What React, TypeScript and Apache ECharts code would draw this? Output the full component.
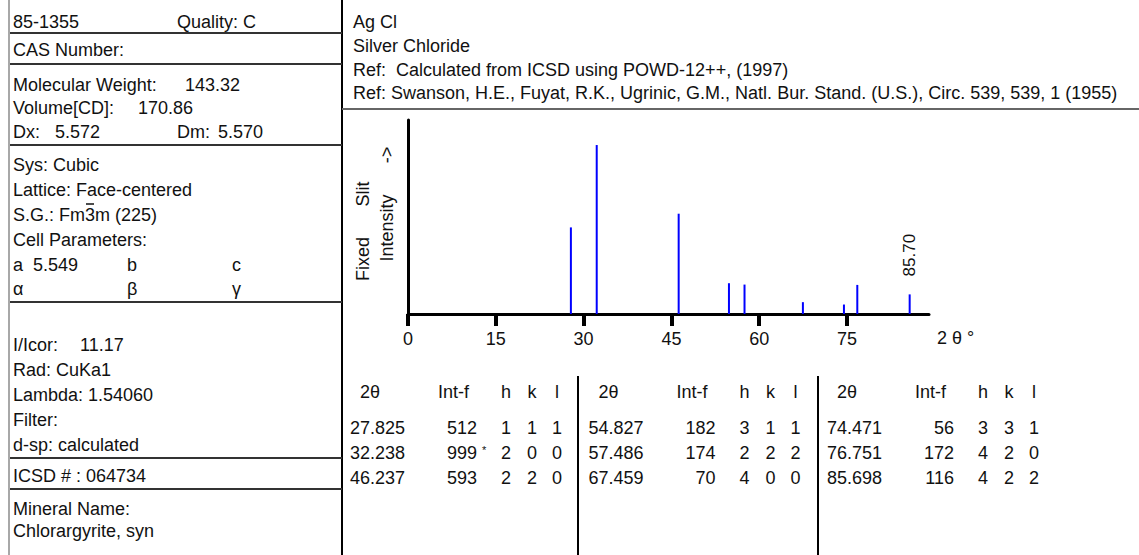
import { useEffect, useRef } from "react";
import * as echarts from "echarts";

// Reflection positions (2θ, degrees) and fixed-slit intensities for AgCl, CuKα1
const twoTheta = [27.825, 32.238, 46.237, 54.827, 57.486, 67.459, 74.471, 76.751, 85.698];
const intensity = [512, 999, 593, 182, 174, 70, 56, 172, 116];
const hIndex = [1, 2, 2, 3, 2, 4, 3, 4, 4];
const kIndex = [1, 0, 2, 1, 2, 0, 3, 2, 2];
const lIndex = [1, 0, 0, 1, 2, 0, 1, 0, 2];

// Axis range and tick labels of the stick pattern
const axisMin = 0;
const axisMax = 89;
const tickValues = [0, 15, 30, 45, 60, 75];
const intensityMax = 1147;
const labelledPeak = 8; // the last reflection carries its 2θ value

// Card texts
const cardNumber = "85-1355";
const quality = "Quality: C";
const casLine = "CAS Number:";
const molWeight = ["Molecular Weight:", "143.32"];
const volume = ["Volume[CD]:", "170.86"];
const densityX = ["Dx:", "5.572"];
const densityM = ["Dm:", "5.570"];
const crystalLines = ["Sys: Cubic", "Lattice: Face-centered", "S.G.: Fm3m (225)", "Cell Parameters:"];
const cellA = ["a", "5.549"];
const cellLetters = ["b", "c"];
const cellAngles = ["α", "β", "γ"];
const iIcor = ["I/Icor:", "11.17"];
const radiationLines = ["Rad: CuKa1", "Lambda: 1.54060", "Filter:", "d-sp: calculated"];
const icsdLine = "ICSD # : 064734";
const mineralLines = ["Mineral Name:", "Chlorargyrite, syn"];
const headerLines = [
  "Ag Cl",
  "Silver Chloride",
  "Ref:  Calculated from ICSD using POWD-12++, (1997)",
  "Ref: Swanson, H.E., Fuyat, R.K., Ugrinic, G.M., Natl. Bur. Stand. (U.S.), Circ. 539, 539, 1 (1955)",
];
const tableHeads = ["2θ", "Int-f", "h", "k", "l"];
const yNameParts = ["Fixed", "Slit", "Intensity", "->"];
const xName = "2 θ °";

const FONT = '"Liberation Sans", Arial, Helvetica, sans-serif';
const FS = 18;

function measure(text: string, size: number) {
  const c = document.createElement("canvas").getContext("2d");
  if (!c) return text.length * size * 0.5;
  c.font = `${size}px ${FONT}`;
  return c.measureText(text).width;
}

function txt(text: string, x: number, y: number, extra: any = {}) {
  const { align = "left", size = FS, rotation = 0, fill = "#111" } = extra;
  return {
    type: "text",
    x,
    y,
    rotation,
    silent: true,
    style: {
      text,
      fill,
      fontSize: size,
      fontFamily: FONT,
      align,
      textAlign: align,
      verticalAlign: "middle",
      textVerticalAlign: "middle",
    },
  };
}

function seg(x1: number, y1: number, x2: number, y2: number, stroke: string, lineWidth: number) {
  return {
    type: "line",
    silent: true,
    shape: { x1, y1, x2, y2 },
    style: { stroke, lineWidth },
  };
}

function buildGraphics() {
  const g: any[] = [];
  const L = 13;
  const panelRight = 342;

  // frame lines
  g.push(seg(9, 0, 9, 555, "#a8a8a8", 2));
  g.push(seg(panelRight, 0, panelRight, 555, "#000", 2));
  [33, 64, 145, 302, 458, 489].forEach((y) => g.push(seg(10, y, panelRight, y, "#333", 2)));
  g.push(seg(panelRight, 109, 1139, 109, "#666", 2));
  g.push(seg(578, 376, 578, 555, "#000", 2));
  g.push(seg(818, 376, 818, 555, "#000", 2));

  // left card panel
  g.push(txt(cardNumber, L, 22));
  g.push(txt(quality, 177, 22));
  g.push(txt(casLine, L, 50));
  g.push(txt(molWeight[0], L, 85));
  g.push(txt(molWeight[1], 185, 85));
  g.push(txt(volume[0], L, 108));
  g.push(txt(volume[1], 138, 108));
  g.push(txt(densityX[0], L, 132));
  g.push(txt(densityX[1], 55, 132));
  g.push(txt(densityM[0], 177, 132));
  g.push(txt(densityM[1], 218, 132));
  crystalLines.forEach((t, i) => g.push(txt(t, L, 165 + i * 25)));
  // bar over the 3 of Fm-3m
  const sgPrefix = measure("S.G.: Fm", FS);
  const threeW = measure("3", FS);
  g.push(seg(L + sgPrefix + 1, 204, L + sgPrefix + threeW - 1, 204, "#111", 1.5));
  g.push(txt(cellA[0], L, 265));
  g.push(txt(cellA[1], 33, 265));
  g.push(txt(cellLetters[0], 127, 265));
  g.push(txt(cellLetters[1], 232, 265));
  [L, 127, 232].forEach((x, i) => g.push(txt(cellAngles[i], x, 289)));
  g.push(txt(iIcor[0], L, 345));
  g.push(txt(iIcor[1], 80, 345));
  radiationLines.forEach((t, i) => g.push(txt(t, L, 370 + i * 25)));
  g.push(txt(icsdLine, L, 476));
  g.push(txt(mineralLines[0], L, 509));
  g.push(txt(mineralLines[1], L, 531));

  // header
  [22, 46, 70, 93].forEach((y, i) => g.push(txt(headerLines[i], 353, y)));

  // axis titles
  g.push(txt(yNameParts[0], 363, 259, { size: 18, align: "center", rotation: Math.PI / 2 }));
  g.push(txt(yNameParts[1], 363, 194, { size: 18, align: "center", rotation: Math.PI / 2 }));
  g.push(txt(yNameParts[2], 387, 228, { size: 18, align: "center", rotation: Math.PI / 2 }));
  g.push(txt(yNameParts[3], 387, 155, { size: 18, align: "center", rotation: Math.PI / 2 }));
  g.push(txt(xName, 937, 338, { size: 18 }));

  // reflection table, three blocks of three rows
  const step = 238.5;
  for (let b = 0; b < 3; b++) {
    const dx = b * step;
    g.push(txt(tableHeads[0], 360 + dx, 392));
    g.push(txt(tableHeads[1], 438 + dx, 392));
    g.push(txt(tableHeads[2], 506 + dx, 392, { align: "center" }));
    g.push(txt(tableHeads[3], 532 + dx, 392, { align: "center" }));
    g.push(txt(tableHeads[4], 557 + dx, 392, { align: "center" }));
  }
  const strongest = Math.max(...intensity);
  twoTheta.forEach((tt, i) => {
    const dx = Math.floor(i / 3) * step;
    const y = 428 + (i % 3) * 25;
    g.push(txt(tt.toFixed(3), 350 + dx, y));
    g.push(txt(String(intensity[i]), 477 + dx, y, { align: "right" }));
    if (intensity[i] === strongest) g.push(txt("*", 482 + dx, y - 3, { size: 11 }));
    g.push(txt(String(hIndex[i]), 506 + dx, y, { align: "center" }));
    g.push(txt(String(kIndex[i]), 532 + dx, y, { align: "center" }));
    g.push(txt(String(lIndex[i]), 557 + dx, y, { align: "center" }));
  });
  return g;
}

export default function App() {
  const ref = useRef<HTMLDivElement>(null);
  useEffect(() => {
    if (!ref.current) return;
    const chart = echarts.init(ref.current, undefined, { renderer: "svg" });
    chart.setOption({
      animation: false,
      backgroundColor: "#ffffff",
      textStyle: { fontFamily: FONT },
      grid: { left: 408, top: 120, width: 521, height: 194, containLabel: false },
      xAxis: {
        type: "value",
        min: axisMin,
        max: axisMax,
        axisLine: { show: true, onZero: false, lineStyle: { color: "#000", width: 3 } },
        axisTick: { show: true, length: 12, customValues: tickValues, lineStyle: { color: "#000", width: 4 } },
        axisLabel: { show: true, customValues: tickValues, color: "#111", fontSize: 18, margin: 16, fontFamily: FONT },
        splitLine: { show: false },
      },
      yAxis: {
        type: "value",
        min: 0,
        max: intensityMax,
        axisLine: { show: true, lineStyle: { color: "#000", width: 3 } },
        axisTick: { show: false },
        axisLabel: { show: false },
        splitLine: { show: false },
      },
      series: [
        {
          type: "bar",
          barWidth: 2,
          itemStyle: { color: "#0000ff" },
          data: twoTheta.map((x, i) =>
            i === labelledPeak
              ? {
                  value: [x, intensity[i]],
                  label: {
                    show: true,
                    position: "top",
                    rotate: 90,
                    align: "left",
                    verticalAlign: "middle",
                    distance: 18,
                    fontSize: 17,
                    color: "#111",
                    fontFamily: FONT,
                    formatter: () => x.toFixed(2),
                  },
                }
              : { value: [x, intensity[i]] }
          ),
        },
      ],
      graphic: { elements: buildGraphics() },
    });
    return () => chart.dispose();
  }, []);
  return (
    <div
      ref={ref}
      style={{ position: "absolute", left: 0, top: 0, width: 1139, height: 555, background: "#fff" }}
    />
  );
}
